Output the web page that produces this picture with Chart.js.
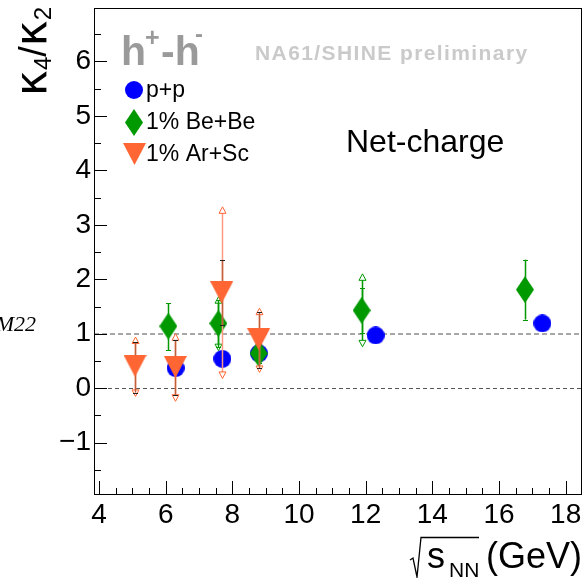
<!DOCTYPE html>
<html><head><meta charset="utf-8">
<script src="https://cdn.jsdelivr.net/npm/chart.js@4/dist/chart.umd.min.js"></script>
<style>html,body{margin:0;padding:0;background:#fff;overflow:hidden}canvas{display:block}</style>
</head><body>
<canvas id="c" width="584" height="578"></canvas>
<script>
// ---- data ----
const xTicks = [4, 6, 8, 10, 12, 14, 16, 18];
const yTicks = [-1, 0, 1, 2, 3, 4, 5, 6];
const seriesNames = ['p+p', '1% Be+Be', '1% Ar+Sc'];

const ppEnergy = [6.3, 7.7, 8.8, 12.3, 17.3];
const ppValue  = [0.37, 0.54, 0.64, 0.97, 1.19];
const ppStatLo = [0.32, 0.49, 0.59, 0.93, 1.15];
const ppStatHi = [0.42, 0.59, 0.69, 1.01, 1.23];

const beEnergy = [6.08, 7.58, 8.79, 11.88, 16.78];
const beValue  = [1.14, 1.19, 0.64, 1.43, 1.81];
const beStatLo = [0.70, 0.75, 0.47, 1.02, 1.26];
const beStatHi = [1.56, 1.62, 0.82, 1.84, 2.36];
const beSysLo  = [null, 0.69, null, 0.76, null];
const beSysHi  = [null, 1.68, null, 2.10, null];

const arEnergy = [5.08, 6.29, 7.68, 8.79];
const arValue  = [0.41, 0.39, 1.76, 0.90];
const arStatLo = [-0.08, -0.12, 1.16, 0.37];
const arStatHi = [0.85, 0.88, 2.35, 1.40];
const arSysLo  = [-0.15, -0.24, 0.18, 0.29];
const arSysHi  = [0.94, 1.00, 3.33, 1.47];

const refLines = [1, 0];

// ---- styling ----
const BLUE = '#0000ff', GREEN = '#009900', ORANGE = '#ff6633';
const FONT = '"Liberation Sans", Arial, Helvetica, sans-serif';

function makeDiamond(w, h, color) {
  const c = document.createElement('canvas'); c.width = w; c.height = h;
  const g = c.getContext('2d'); g.fillStyle = color; g.beginPath();
  g.moveTo(w / 2, 0); g.lineTo(w, h / 2); g.lineTo(w / 2, h); g.lineTo(0, h / 2); g.closePath(); g.fill();
  return c;
}
function makeTriDown(w, h, color) {
  const c = document.createElement('canvas'); c.width = w; c.height = h;
  const g = c.getContext('2d'); g.fillStyle = color; g.beginPath();
  g.moveTo(0, 0); g.lineTo(w, 0); g.lineTo(w / 2, h); g.closePath(); g.fill();
  return c;
}
function makeCircle(d, color) {
  const c = document.createElement('canvas'); c.width = d; c.height = d;
  const g = c.getContext('2d'); g.fillStyle = color; g.beginPath();
  g.arc(d / 2, d / 2, d / 2, 0, Math.PI * 2); g.fill();
  return c;
}
const circleImg = makeCircle(18, BLUE);
const diamondImg = makeDiamond(18, 27, GREEN);
const triImg = makeTriDown(23, 22, ORANGE);

const pts = (xs, ys) => xs.map((x, i) => ({ x: x, y: ys[i] }));

const errInfo = [
  { lo: ppStatLo, hi: ppStatHi, slo: null, shi: null, xs: ppEnergy, line: BLUE, sysLine: BLUE, cap: BLUE, arrow: BLUE },
  { lo: beStatLo, hi: beStatHi, slo: beSysLo, shi: beSysHi, xs: beEnergy, line: GREEN, sysLine: GREEN, cap: GREEN, arrow: GREEN },
  { lo: arStatLo, hi: arStatHi, slo: arSysLo, shi: arSysHi, xs: arEnergy, line: '#c0603a', sysLine: '#ff9a80', cap: '#222222', arrow: ORANGE }
];

function arrowHead(ctx, x, y, up, color) {
  const w = 3.5, h = 6.5;
  ctx.save(); ctx.strokeStyle = color; ctx.fillStyle = '#fff'; ctx.lineWidth = 1;
  ctx.beginPath();
  if (up) { ctx.moveTo(x, y); ctx.lineTo(x - w, y + h); ctx.lineTo(x + w, y + h); }
  else { ctx.moveTo(x, y); ctx.lineTo(x - w, y - h); ctx.lineTo(x + w, y - h); }
  ctx.closePath(); ctx.fill(); ctx.stroke(); ctx.restore();
}

const errorBars = {
  id: 'errorBars',
  beforeDatasetDraw(chart, args) {
    const info = errInfo[args.index];
    if (!info) return;
    const ctx = chart.ctx, xs = chart.scales.x, ys = chart.scales.y;
    ctx.save();
    info.xs.forEach((xv, i) => {
      const px = Math.round(xs.getPixelForValue(xv)) + 0.5;
      if (info.slo && info.slo[i] != null) {
        const a = ys.getPixelForValue(info.shi[i]), b = ys.getPixelForValue(info.slo[i]);
        ctx.strokeStyle = info.sysLine; ctx.lineWidth = 1.5;
        ctx.beginPath(); ctx.moveTo(px, a + 5); ctx.lineTo(px, b - 5); ctx.stroke();
        arrowHead(ctx, px, a, true, info.arrow);
        arrowHead(ctx, px, b, false, info.arrow);
      }
      const t = ys.getPixelForValue(info.hi[i]), bt = ys.getPixelForValue(info.lo[i]);
      ctx.strokeStyle = info.line; ctx.lineWidth = 1.5;
      ctx.beginPath(); ctx.moveTo(px, t); ctx.lineTo(px, bt); ctx.stroke();
      ctx.strokeStyle = info.cap; ctx.lineWidth = 1.2;
      ctx.beginPath();
      ctx.moveTo(px - 2.5, Math.round(t) + 0.5); ctx.lineTo(px + 2.5, Math.round(t) + 0.5);
      ctx.moveTo(px - 2.5, Math.round(bt) + 0.5); ctx.lineTo(px + 2.5, Math.round(bt) + 0.5);
      ctx.stroke();
    });
    ctx.restore();
  }
};

const decor = {
  id: 'decor',
  beforeDatasetsDraw(chart) {
    const ctx = chart.ctx, a = chart.chartArea, ys = chart.scales.y;
    ctx.save();
    const y1 = Math.round(ys.getPixelForValue(refLines[0]));
    ctx.strokeStyle = '#a8a8a8'; ctx.lineWidth = 2; ctx.setLineDash([5, 3]);
    ctx.beginPath(); ctx.moveTo(a.left, y1); ctx.lineTo(a.right, y1); ctx.stroke();
    const y0 = Math.round(ys.getPixelForValue(refLines[1])) + 0.5;
    ctx.strokeStyle = '#555555'; ctx.lineWidth = 1; ctx.setLineDash([4, 3]);
    ctx.beginPath(); ctx.moveTo(a.left, y0); ctx.lineTo(a.right, y0); ctx.stroke();
    ctx.setLineDash([]);
    ctx.restore();
  },
  afterDraw(chart) {
    const ctx = chart.ctx, a = chart.chartArea, xs = chart.scales.x, ys = chart.scales.y;
    ctx.save();
    // frame
    ctx.strokeStyle = '#000'; ctx.lineWidth = 1;
    ctx.strokeRect(a.left + 0.5, a.top + 0.5, a.right - a.left - 1, a.bottom - a.top - 1);
    // inner ticks
    ctx.beginPath();
    for (let v = Math.ceil(ys.min * 2) / 2; v <= ys.max; v += 0.5) {
      const p = Math.round(ys.getPixelForValue(v)) + 0.5;
      const major = Math.abs(v - Math.round(v)) < 1e-6;
      ctx.moveTo(a.left, p); ctx.lineTo(a.left + (major ? 13 : 7), p);
    }
    for (let v = Math.ceil(xs.min * 2) / 2; v <= xs.max; v += 0.5) {
      const p = Math.round(xs.getPixelForValue(v)) + 0.5;
      const major = Math.abs(v / 2 - Math.round(v / 2)) < 1e-6;
      ctx.moveTo(p, a.bottom); ctx.lineTo(p, a.bottom - (major ? 14 : 7));
    }
    ctx.stroke();

    // header texts
    ctx.fillStyle = '#9a9a9a'; ctx.textBaseline = 'alphabetic'; ctx.textAlign = 'left';
    ctx.font = 'bold 41px ' + FONT; ctx.fillText('h', 121, 65);
    ctx.font = 'bold 25px ' + FONT; ctx.fillText('+', 145, 46);
    ctx.font = 'bold 41px ' + FONT; ctx.fillText('-h', 161, 65);
    ctx.font = 'bold 24px ' + FONT; ctx.fillText('-', 195, 42);

    ctx.fillStyle = '#cacaca'; ctx.font = 'bold 21px ' + FONT;
    ctx.letterSpacing = '1.4px';
    ctx.fillText('NA61/SHINE preliminary', 255, 60);
    ctx.letterSpacing = '0px';

    ctx.fillStyle = '#000'; ctx.font = '32px ' + FONT;
    ctx.fillText('Net-charge', 346, 152);

    // legend
    const legY = [90, 122, 154];
    const legImg = [circleImg, diamondImg, triImg];
    ctx.font = '23px ' + FONT;
    seriesNames.forEach((n, i) => {
      const im = legImg[i];
      ctx.drawImage(im, Math.round(134 - im.width / 2), Math.round(legY[i] - im.height / 2));
      ctx.fillStyle = '#000';
      ctx.fillText(n, 146, legY[i] + 7);
    });

    // stray M22 label at left edge
    ctx.font = 'italic 22px "Liberation Serif", "DejaVu Serif", serif';
    ctx.textAlign = 'right';
    ctx.fillText('M22', 36, 331);
    ctx.textAlign = 'left';

    // y title (rotated)
    ctx.save();
    ctx.translate(46, 96); ctx.rotate(-Math.PI / 2);
    let x = 0;
    const big = '44px "DejaVu Sans", sans-serif', small = '24px ' + FONT;
    ctx.font = big; ctx.fillText('κ', x, 0); x += ctx.measureText('κ').width;
    ctx.font = small; ctx.fillText('4', x, 5); x += ctx.measureText('4').width;
    ctx.font = '38px ' + FONT; ctx.fillText('/', x, 0); x += ctx.measureText('/').width;
    ctx.font = big; ctx.fillText('κ', x, 0); x += ctx.measureText('κ').width;
    ctx.font = small; ctx.fillText('2', x, 5);
    ctx.restore();

    // x title: sqrt(s_NN) (GeV)
    ctx.font = '36px ' + FONT;
    ctx.fillText('s', 427, 568);
    ctx.font = '21px ' + FONT;
    ctx.fillText('NN', 449, 577);
    ctx.font = '36px ' + FONT;
    ctx.fillText('(GeV)', 486, 568);
    ctx.strokeStyle = '#000'; ctx.lineWidth = 1.3;
    ctx.beginPath();
    ctx.moveTo(410, 560); ctx.lineTo(413, 558); ctx.lineTo(417, 577); ctx.lineTo(421, 537.5); ctx.lineTo(479, 537.5);
    ctx.stroke();
    ctx.restore();
  }
};

new Chart(document.getElementById('c'), {
  type: 'scatter',
  data: {
    datasets: [
      { label: seriesNames[0], data: pts(ppEnergy, ppValue), pointStyle: circleImg, pointRadius: 9, order: 3 },
      { label: seriesNames[1], data: pts(beEnergy, beValue), pointStyle: diamondImg, pointRadius: 9, order: 2 },
      { label: seriesNames[2], data: pts(arEnergy, arValue), pointStyle: triImg, pointRadius: 11, order: 1 }
    ]
  },
  options: {
    responsive: false, animation: false, devicePixelRatio: 1, events: [],
    layout: { autoPadding: false, padding: { left: 0, top: 8, right: 2, bottom: 0 } },
    plugins: { legend: { display: false }, tooltip: { enabled: false }, title: { display: false } },
    scales: {
      x: {
        type: 'linear', min: 3.85, max: 18.49,
        grid: { display: false, drawTicks: false }, border: { display: false },
        afterBuildTicks: s => { s.ticks = xTicks.map(v => ({ value: v })); },
        afterFit: s => { s.height = 83; s.paddingLeft = 0; s.paddingRight = 0; s.paddingTop = 0; s.paddingBottom = 0; },
        ticks: { color: '#000', font: { family: FONT, size: 28 }, padding: 3, maxRotation: 0, autoSkip: false }
      },
      y: {
        type: 'linear', min: -1.96, max: 6.98,
        grid: { display: false, drawTicks: false }, border: { display: false },
        afterBuildTicks: s => { s.ticks = yTicks.map(v => ({ value: v })); },
        afterFit: s => { s.width = 94; s.paddingTop = 0; s.paddingBottom = 0; s.paddingLeft = 0; s.paddingRight = 0; },
        ticks: { color: '#000', font: { family: FONT, size: 28 }, padding: 3, autoSkip: false,
                 callback: v => v < 0 ? '\u2212' + Math.abs(v) : String(v) }
      }
    }
  },
  plugins: [errorBars, decor]
});
</script>
</body></html>
